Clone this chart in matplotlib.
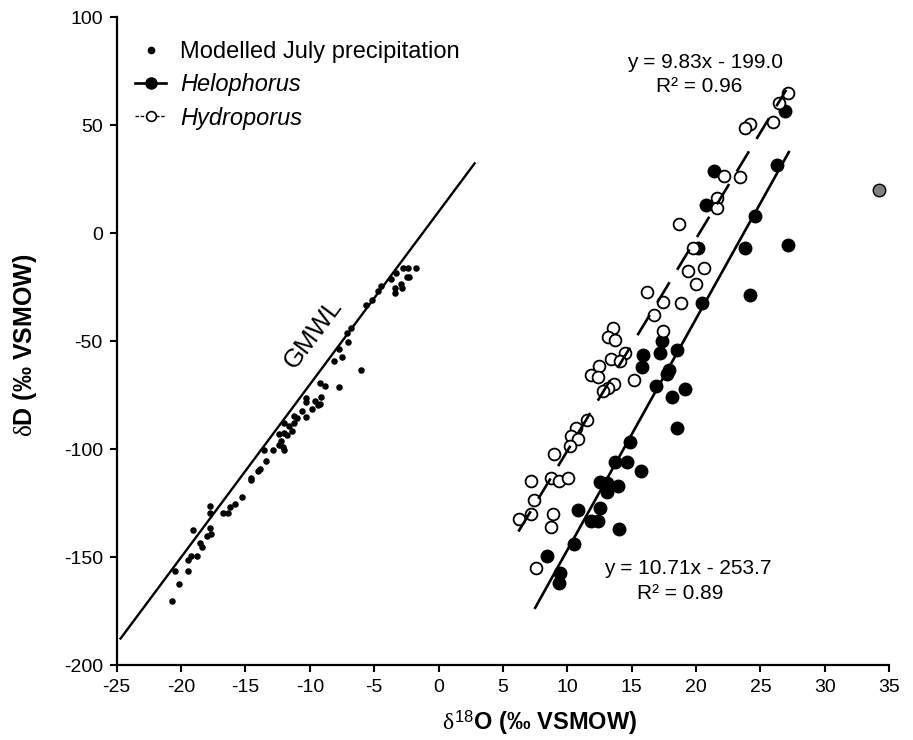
import matplotlib
matplotlib.use("Agg")
import matplotlib.pyplot as plt
from matplotlib.lines import Line2D
import numpy as np

plt.rcParams['font.family'] = ['Liberation Sans', 'DejaVu Sans']
plt.rcParams['mathtext.fontset'] = 'custom'
plt.rcParams['mathtext.rm'] = 'Liberation Sans'
plt.rcParams['mathtext.it'] = 'Liberation Serif'
plt.rcParams['mathtext.bf'] = 'Liberation Sans:bold'
plt.rcParams['axes.unicode_minus'] = False

# ---------------- data ----------------
precip_x = [-20.74, -20.15, -20.48, -19.45, -19.5, -19.24, -18.75, -19.06, -18.54, -18.4,
            -18.0, -17.7, -17.74, -17.76, -17.76, -16.73, -16.34, -16.2, -15.8, -15.3,
            -14.53, -14.53, -14.06, -13.9, -13.44, -13.55, -12.85, -12.02, -12.07, -12.38,
            -12.2, -12.4, -12.0, -11.8, -12.0, -11.6, -11.35, -11.2, -11.2, -11.03,
            -10.64, -10.26, -10.33, -10.26, -9.82, -9.61, -9.4, -9.22, -9.1, -9.22,
            -8.84, -7.72, -1.72, -2.37, -2.76, -2.49, -2.29, -3.27, -3.73, -2.93,
            -2.88, -3.35, -3.35, -4.51, -4.74, -5.21, -5.6, -6.82, -7.1, -7.03,
            -7.72, -7.54, -8.11, -6.04]
precip_y = [-170.2, -162.2, -156.2, -156.2, -151.3, -149.4, -149.3, -137.2, -143.5, -145.1,
            -140.1, -139.2, -136.3, -129.3, -126.3, -129.3, -129.3, -126.6, -125.3, -122.2,
            -114.2, -113.4, -110.0, -109.3, -105.3, -100.3, -100.3, -100.3, -98.8, -98.0,
            -96.2, -93.1, -92.6, -93.4, -87.7, -89.2, -91.4, -87.7, -84.6, -85.6,
            -82.1, -84.9, -78.0, -76.4, -81.5, -77.6, -79.5, -79.0, -75.6, -69.4,
            -70.5, -71.3, -16.2, -16.2, -16.2, -20.1, -20.1, -18.5, -21.3, -23.5,
            -25.5, -25.5, -27.5, -24.2, -26.6, -30.9, -33.2, -44.0, -46.3, -50.2,
            -53.7, -57.1, -59.1, -63.3]

helo_x = [26.9, 26.3, 21.4, 20.75, 24.55, 20.15, 23.8, 27.1, 24.2, 20.45,
          17.35, 17.2, 18.5, 15.9, 15.8, 17.87, 17.7, 16.9, 19.1, 18.1,
          18.5, 14.85, 13.7, 14.6, 15.7, 12.57, 13.1, 13.1, 13.9, 10.8,
          12.5, 11.87, 12.4, 14.0, 10.5, 8.42, 9.4, 9.36]
helo_y = [56.5, 31.8, 29.0, 13.1, 8.0, -6.7, -6.8, -5.6, -28.7, -32.1,
          -49.9, -55.3, -54.0, -56.3, -61.8, -63.3, -65.1, -70.6, -72.1, -75.9,
          -90.0, -96.5, -105.7, -105.7, -109.9, -115.3, -115.7, -119.6, -117.0, -128.1,
          -127.3, -133.0, -133.0, -136.9, -143.8, -149.3, -157.4, -162.0]

hydro_x = [27.15, 26.4, 26.0, 24.2, 23.8, 22.2, 23.4, 21.6, 21.6, 18.7,
           19.75, 20.65, 19.4, 20.0, 16.15, 17.4, 18.8, 16.7, 17.4, 13.55,
           13.15, 13.7, 14.5, 13.4, 14.1, 15.2, 12.45, 11.85, 12.4, 13.6,
           13.15, 12.8, 11.55, 10.65, 10.25, 10.8, 10.2, 8.95, 7.15, 8.7,
           9.35, 10.05, 7.4, 6.25, 7.2, 8.85, 8.7, 7.55]
hydro_y = [64.8, 60.2, 51.4, 50.6, 48.6, 26.5, 26.2, 16.2, 11.9, 4.3,
           -6.9, -15.9, -17.3, -23.3, -27.0, -31.8, -32.1, -37.8, -45.2, -44.0,
           -47.9, -49.4, -55.6, -58.2, -59.0, -67.9, -61.3, -65.6, -66.7, -69.9,
           -71.8, -72.9, -86.4, -90.0, -93.7, -95.2, -98.3, -102.3, -114.7, -113.1,
           -114.5, -113.1, -123.5, -132.4, -130.0, -130.0, -135.8, -154.8]

outlier_x = [34.2]
outlier_y = [20.0]

# GMWL: dD = 8 * d18O + 10
gmwl_slope, gmwl_icpt = 8.0, 10.0
gmwl_range = [-24.7, 2.8]
# trend lines
helo_slope, helo_icpt, helo_r2 = 10.71, -253.7, 0.89
helo_range = [7.5, 27.2]
hydro_slope, hydro_icpt, hydro_r2 = 9.83, -199.0, 0.96
hydro_range = [6.2, 27.0]

xticks = list(range(-25, 36, 5))
yticks = list(range(-200, 101, 50))

# ---------------- figure ----------------
fig = plt.figure(figsize=(9.13, 7.40), dpi=100)
ax = fig.add_axes([0.1278, 0.1009, 0.8462, 0.8757])

ax.scatter(precip_x, precip_y, s=22, color='black', linewidths=0, zorder=2)

gx = np.array(gmwl_range)
ax.plot(gx, gmwl_slope * gx + gmwl_icpt, color='black', lw=1.7, zorder=3)

ax.plot(helo_x, helo_y, 'o', ms=9, color='black', mec='black', zorder=4)
ax.plot(outlier_x, outlier_y, 'o', ms=9, mfc='#808080', mec='black', mew=1.0, zorder=4)
ax.plot(hydro_x, hydro_y, 'o', ms=8.5, mfc='white', mec='black', mew=1.3, zorder=5)

hx = np.array(helo_range)
ax.plot(hx, helo_slope * hx + helo_icpt, color='black', lw=1.9, zorder=6)
dx = np.array(hydro_range)
ax.plot(dx, hydro_slope * dx + hydro_icpt, color='black', lw=1.9,
        linestyle=(0, (9, 5.5)), zorder=6)

ax.text(-9.74, -46.3, 'GMWL', fontsize=18.5, rotation=53, ha='center', va='center',
        rotation_mode='anchor')
ax.text(20.7, 79.3, 'y = %.2fx - %.1f' % (hydro_slope, -hydro_icpt), fontsize=15,
        ha='center', va='center')
ax.text(20.24, 68.2, 'R² = %.2f' % hydro_r2, fontsize=15, ha='center', va='center')
ax.text(19.35, -155.1, 'y = %.2fx - %.1f' % (helo_slope, -helo_icpt), fontsize=15,
        ha='center', va='center')
ax.text(18.8, -166.7, 'R² = %.2f' % helo_r2, fontsize=15, ha='center', va='center')

ax.set_xlim(-25, 35)
ax.set_ylim(-200, 100)
ax.set_xticks(xticks)
ax.set_yticks(yticks)
ax.tick_params(axis='both', direction='out', length=5, width=1.5, labelsize=14, pad=5)
for s in ['top', 'right']:
    ax.spines[s].set_visible(False)
for s in ['left', 'bottom']:
    ax.spines[s].set_linewidth(1.6)

ax.set_xlabel(r'$\delta^{18}$O (‰ VSMOW)', fontsize=17, fontweight='bold')
ax.set_ylabel(r'$\delta$D (‰ VSMOW)', fontsize=18, fontweight='bold')
ax.xaxis.set_label_coords(0.548, -0.066)
ax.yaxis.set_label_coords(-0.100, 0.494)

handles = [
    Line2D([], [], marker='o', ms=4.5, color='black', lw=0),
    Line2D([], [], marker='o', ms=8, color='black', lw=1.9),
    Line2D([], [], marker='o', ms=7, mfc='white', mec='black', mew=1.2, color='black',
           lw=1.0, linestyle=(0, (2.5, 1.2))),
]
labels = ['Modelled July precipitation', 'Helophorus', 'Hydroporus']
leg = ax.legend(handles, labels, loc='upper left', bbox_to_anchor=(0.024, 0.963),
                frameon=False, fontsize=17, handlelength=1.3, handletextpad=0.6,
                labelspacing=0.43, borderpad=0, borderaxespad=0)
leg.get_texts()[1].set_style('italic')
leg.get_texts()[2].set_style('italic')

fig.savefig('out.png', dpi=100)
